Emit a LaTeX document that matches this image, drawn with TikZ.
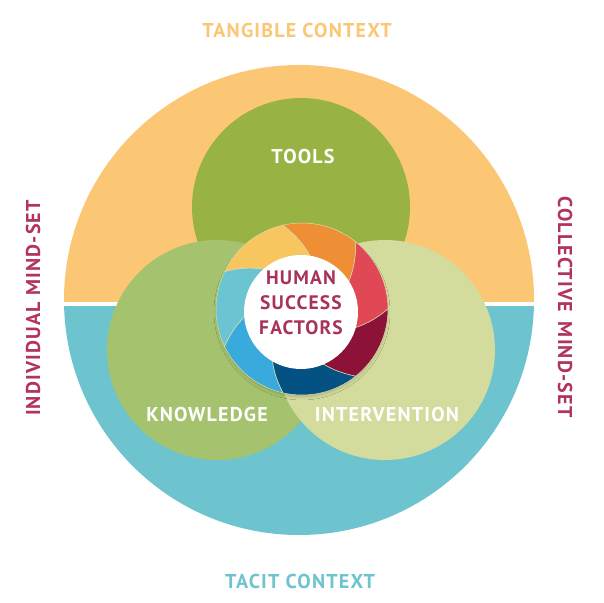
\documentclass[tikz,border=0pt]{standalone}
\usepackage{fontspec}
\setmainfont[LetterSpace=6]{PT Sans}
\usepackage{xcolor}
\usepackage{tikz}
\usetikzlibrary{shadows.blur}

\definecolor{tangible}{RGB}{251,199,116}
\definecolor{tacit}{RGB}{109,196,207}
\definecolor{toolsgreen}{RGB}{152,179,67}
\definecolor{knowgreen}{RGB}{165,194,110}
\definecolor{intgreen}{RGB}{211,219,157}
\definecolor{mindred}{RGB}{176,52,92}
\definecolor{hsfred}{RGB}{168,50,90}
\definecolor{petalline}{RGB}{222,218,170}
\definecolor{petalA}{RGB}{248,198,94}
\definecolor{petalB}{RGB}{239,143,53}
\definecolor{petalC}{RGB}{224,72,86}
\definecolor{petalD}{RGB}{140,18,56}
\definecolor{petalE}{RGB}{4,82,131}
\definecolor{petalF}{RGB}{56,171,220}
\definecolor{petalG}{RGB}{107,196,209}

\tikzset{
  circname/.style={text=white,font=\bfseries\fontsize{20}{24}\selectfont},
  sidename/.style={font=\bfseries\fontsize{20}{24}\selectfont},
  hsfname/.style={text=hsfred,align=center,font=\bfseries\fontsize{19.5}{25}\selectfont},
  petal/.style={draw=petalline,line width=0.5pt},
}

\begin{document}
\begin{tikzpicture}[x=1pt,y=1pt]
    \useasboundingbox (0,0) rectangle (604,602);
    \fill[white] (0,0) rectangle (604,602);

    \begin{scope}% tangible half
      \clip (0,300) rectangle (604,602);
      \fill[tangible] (299,302) circle[radius=235pt];
    \end{scope}
    \begin{scope}% tacit half
      \clip (0,0) rectangle (604,295);
      \fill[tacit] (299,302) circle[radius=235pt];
    \end{scope}

    \fill[toolsgreen] (301,395) circle[radius=109pt];% tools circle
    \fill[knowgreen] (217,252) circle[radius=110pt];% knowledge circle
    \fill[intgreen] (385,252) circle[radius=110pt];% intervention circle

    \begin{scope}[shift={(302,293)}]% pinwheel
      \fill[white,blur shadow={shadow xshift=0pt,shadow yshift=-3pt,shadow opacity=18,shadow blur radius=3pt}]
        (0,0) circle[radius=85pt];
      \foreach \col [count=\i from 0] in {petalA,petalB,petalC,petalD,petalE,petalF,petalG}{
        \pgfmathsetmacro{\a}{154.3-51.43*\i}
        \pgfmathsetmacro{\b}{\a-51.43}
        \pgfmathsetmacro{\ai}{\a-25}
        \pgfmathsetmacro{\bi}{\b-25}
        \filldraw[petal,fill=\col] (\a:86) arc[start angle=\a,end angle=\b,radius=86pt]
          to[bend left=12] (\bi:50) arc[start angle=\bi,end angle=\ai,radius=50pt]
          to[bend right=12] (\a:86) -- cycle;
      }
    \end{scope}
    \fill[white] (301,290) circle[radius=57pt];% centre disc

    \node[circname] (tools) at (303,445) {TOOLS};
    \node[circname] (knowledge) at (207,187) {KNOWLEDGE};
    \node[circname] (intervention) at (387,187) {INTERVENTION};
    \node[hsfname] (hsf) at (301,299) {HUMAN\\SUCCESS\\FACTORS};

    \node[sidename,text=tangible] (tangiblectx) at (297,571) {TANGIBLE CONTEXT};
    \node[sidename,text=tacit] (tacitctx) at (300,21) {TACIT CONTEXT};
    \node[sidename,text=mindred,rotate=90] (individual) at (33,294) {INDIVIDUAL MIND-SET};
    \node[sidename,text=mindred,rotate=-90] (collective) at (565,295) {COLLECTIVE\hspace{0.5em}MIND-SET};
\end{tikzpicture}
\end{document}
